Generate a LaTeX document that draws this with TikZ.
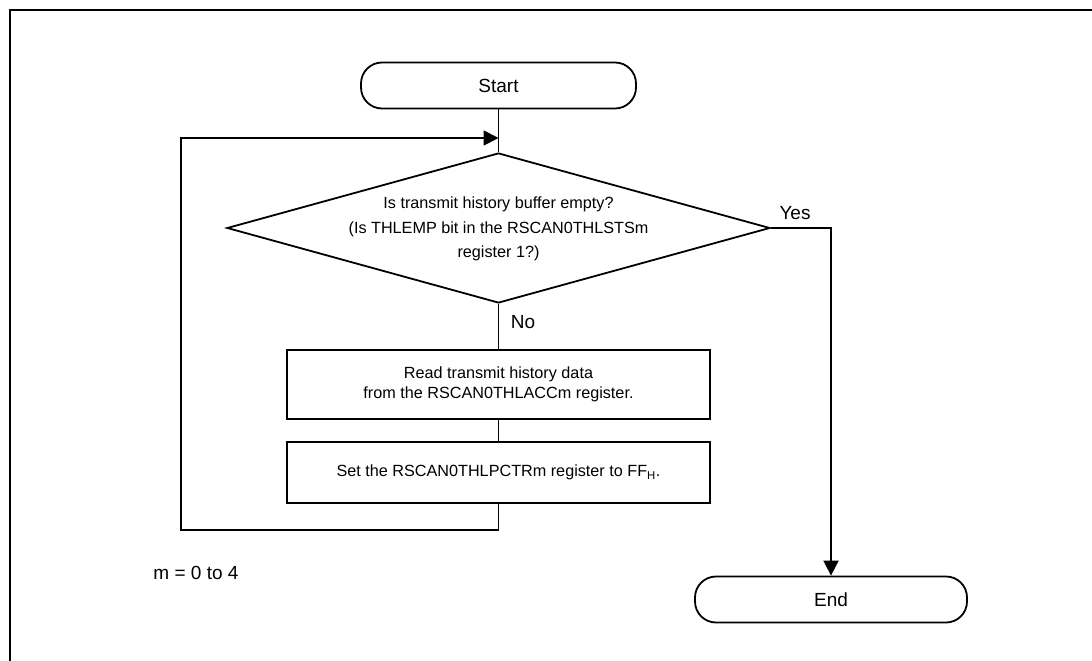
\documentclass[tikz,border=0pt]{standalone}
\usepackage{fontspec}
\setmainfont{Liberation Sans}
\usetikzlibrary{shapes.geometric,arrows.meta}
\begin{document}
\begin{tikzpicture}[x=1pt,y=-1pt,
  txt/.style={font=\fontsize{16.2}{20}\selectfont},
  lbl/.style={font=\fontsize{19}{22}\selectfont},
  line/.style={line width=1.8pt},
  term/.style={draw,line width=1.8pt,rounded corners=21pt,minimum width=275pt,minimum height=46pt,inner sep=0pt,lbl},
  proc/.style={draw,line width=1.8pt,minimum width=423pt,inner sep=0pt,align=center,txt},
  arr/.style={line width=1.8pt,-{Triangle[length=15pt,width=15pt]}},
]
\useasboundingbox (0,0) rectangle (1092,661);
\draw[line width=2.2pt] (10,661) -- (10,10) -- (1092,10);

\node[term] (start) at (498.5,85.5) {Start};
\node[diamond,draw,line width=1.8pt,minimum width=543pt,minimum height=150pt,inner sep=0pt] (dec) at (498.5,228) {};
\node[align=center,font=\fontsize{16.2}{24.5}\selectfont] (dect) at (498.5,229) {Is transmit history buffer empty?\\(Is THLEMP bit in the RSCAN0THLSTSm\\register 1?)};
\node[proc,minimum height=69pt] (b1) at (498.5,384.5) {Read transmit history data\\from the RSCAN0THLACCm register.};
\node[proc,minimum height=61pt] (b2) at (498.5,472.5) {Set the RSCAN0THLPCTRm register to FF\textsubscript{H}.};
\node[term,minimum width=272pt] (end) at (831,599.5) {End};

\coordinate (ll) at (181,530);
\coordinate (lj) at (498.5,138);

\draw[line] (start) -- (dec.north);
\draw[line] (dec.south) -- (b1.north);
\draw[line] (b1.south) -- (b2.north);
\draw[arr] (b2.south) |- (ll) |- (lj);
\draw[arr] (dec.east) -| (end.north);

\node[lbl] (yes) at (795,213) {Yes};
\node[lbl] (no) at (523,322) {No};
\node[lbl] (mnote) at (196,573) {m = 0 to 4};
\end{tikzpicture}
\end{document}
